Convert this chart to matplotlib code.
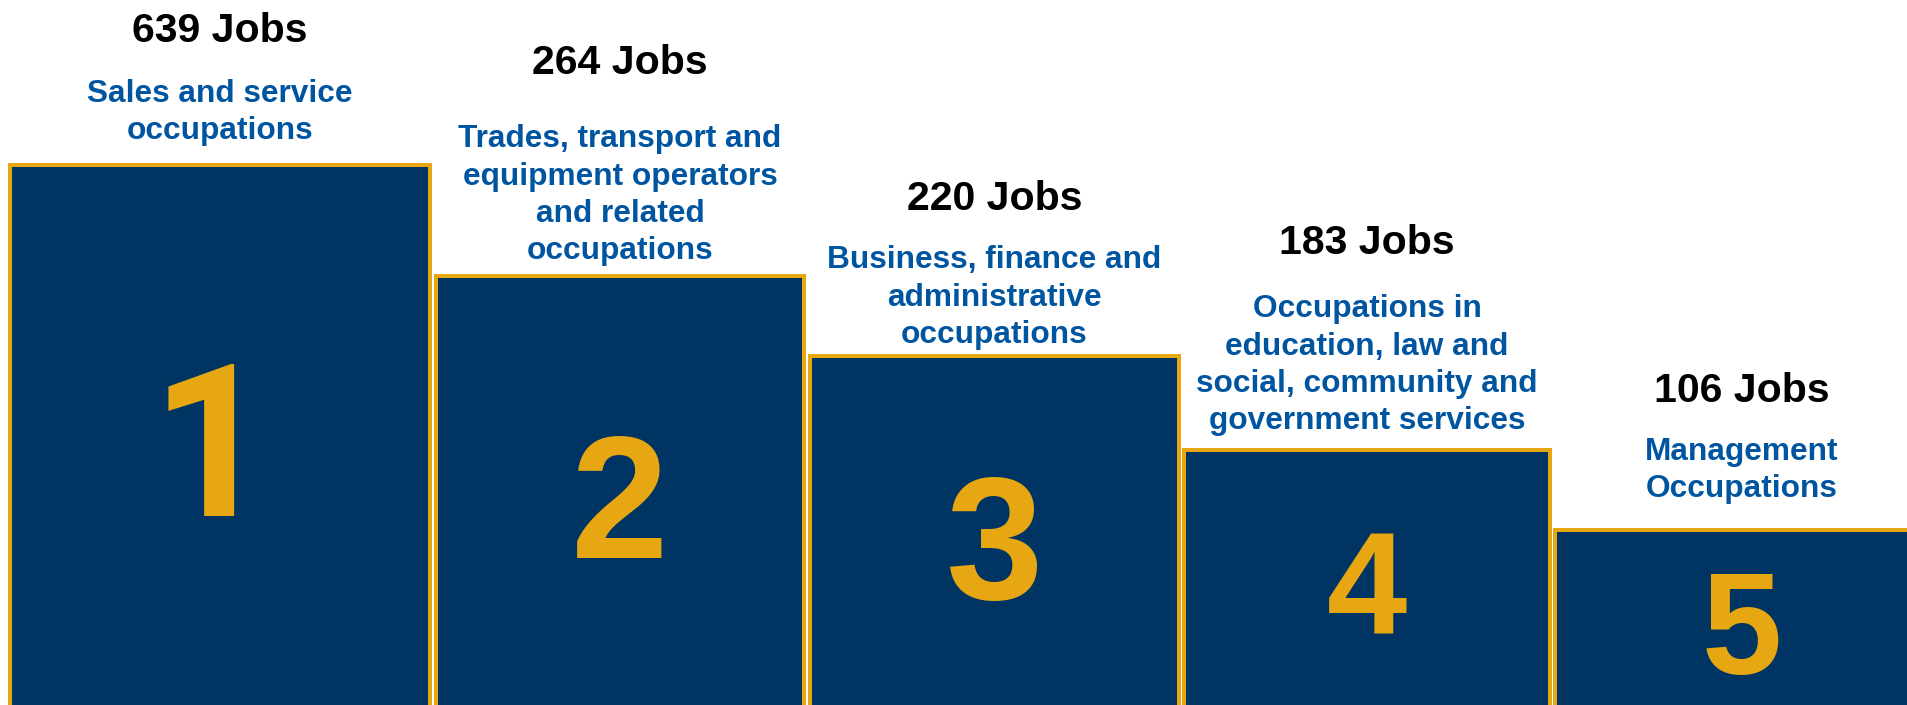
import matplotlib
matplotlib.use("Agg")
import matplotlib.pyplot as plt

# ---- data ----
ranks = [1, 2, 3, 4, 5]
jobs = [639, 264, 220, 183, 106]
categories = [
    "Sales and service\noccupations",
    "Trades, transport and\nequipment operators\nand related\noccupations",
    "Business, finance and\nadministrative\noccupations",
    "Occupations in\neducation, law and\nsocial, community and\ngovernment services",
    "Management\nOccupations",
]

# ---- layout (pixel-like units, y measured from top) ----
W, H = 1908, 705
centers = [220, 620, 994.5, 1367, 1742]
widths = [420, 368, 369, 366, 374]
tops = [165, 276, 356, 450, 530]
digit_size = [153, 126, 126, 104, 104]
digit_base = [516, 558, 599, 633, 674]
digit_font = ["Roboto", "Liberation Sans", "Liberation Sans",
              "Liberation Sans", "Liberation Sans"]
digit_dx = [-8, 0, 0, 0, 0]
jobs_base = [42, 74, 210, 254, 402]
label_base = [102, 147, 268, 317, 460]
line_pitch = 37.5

NAVY = "#003462"
GOLD = "#E6A713"
BLUE = "#0055A0"
FONT = "Liberation Sans"

fig = plt.figure(figsize=(W / 100, H / 100), dpi=100)
ax = fig.add_axes([0, 0, 1, 1])
ax.set_xlim(0, W)
ax.set_ylim(H, 0)
ax.axis("off")

heights = [H + 30 - t for t in tops]
ax.bar(centers, heights, bottom=tops, width=widths, color=NAVY,
       edgecolor=GOLD, linewidth=4 * 72 / 100, align="center", zorder=2)

for i in range(len(ranks)):
    cx = centers[i]
    ax.text(cx + digit_dx[i], digit_base[i], str(ranks[i]), ha="center",
            va="baseline", color=GOLD, fontsize=digit_size[i],
            fontweight="bold", family=digit_font[i], zorder=3)
    ax.text(cx, jobs_base[i], f"{jobs[i]} Jobs", ha="center", va="baseline",
            color="black", fontsize=29.5, fontweight="bold", family=FONT,
            zorder=3)
    for k, line in enumerate(categories[i].split("\n")):
        ax.text(cx, label_base[i] + k * line_pitch, line, ha="center",
                va="baseline", color=BLUE, fontsize=22.8, fontweight="bold",
                family=FONT, zorder=3)

fig.savefig("out.png", dpi=100, facecolor="white")
